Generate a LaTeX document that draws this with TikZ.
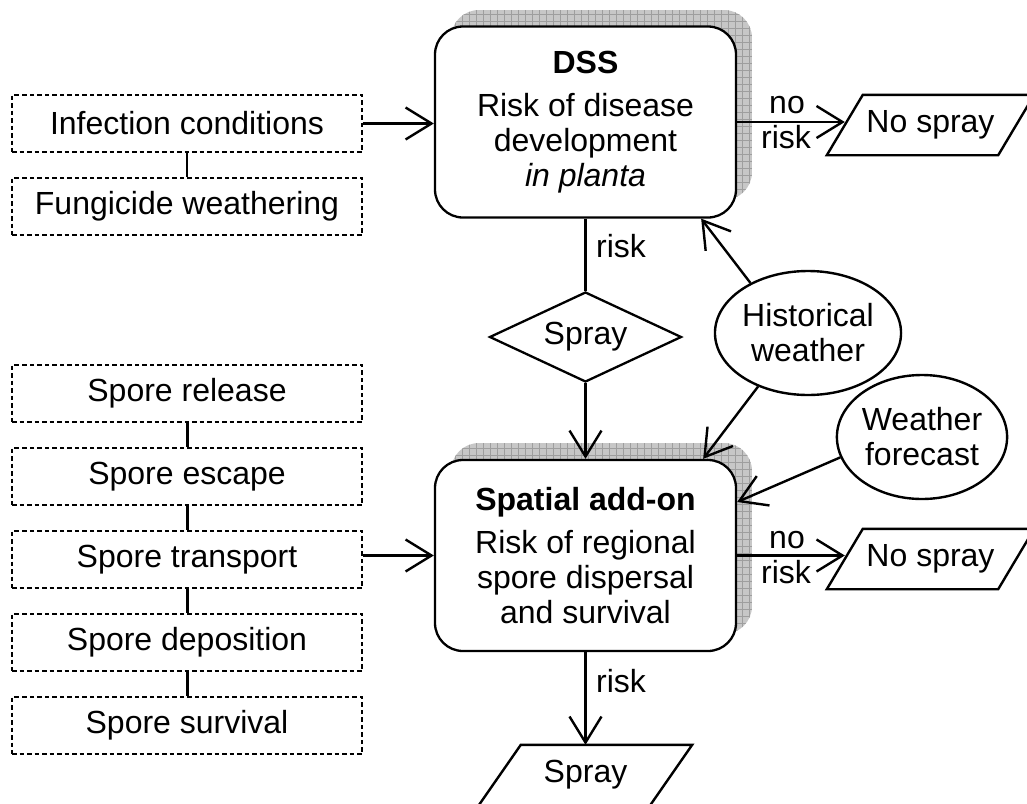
\documentclass[tikz,border=0pt]{standalone}
\usepackage{fontspec}
\setmainfont{Liberation Sans}
\usetikzlibrary{arrows.meta,shapes.geometric}

\tikzset{
  base/.style={font=\fontsize{32}{35}\selectfont},
  stage/.style={base, draw, dash pattern=on 4.5pt off 3pt, line width=1.3pt,
    minimum width=350pt, minimum height=57pt, inner sep=0pt},
  model/.style={base, draw, fill=white, rounded corners=28pt, line width=2.3pt,
    minimum width=301pt, minimum height=191pt, align=center, inner sep=0pt},
  source/.style={base, draw, ellipse, line width=2.4pt, minimum width=170pt,
    minimum height=124pt, align=center, inner sep=0pt},
  decision/.style={base, draw, diamond, aspect=2, line width=2.3pt,
    minimum width=192pt, minimum height=90pt, inner sep=0pt},
  outcome/.style={base, minimum width=171pt, minimum height=60pt, inner sep=0pt},
  lbl/.style={base, anchor=base, inner sep=0pt},
  link/.style={line width=2.4pt},
  arr/.style={line width=2.4pt, -{Straight Barb[length=26pt,width=32pt,line width=2.4pt]}},
  chain/.style={line width=3pt},
  thinchain/.style={line width=1.3pt},
  shade/.style={fill=black!22},
  hatch/.style={draw=black!38, line width=0.7pt},
}

% hatched drop shadow for a rounded box spanning two corners
\newcommand\hatchshadow[2]{%
  \begin{scope}
    \clip[rounded corners=28pt] ([shift={(16,-17)}]#1) rectangle ([shift={(16,-17)}]#2);
    \fill[shade] ([shift={(16,-17)}]#1) rectangle ([shift={(16,-17)}]#2);
    \draw[hatch, xstep=7pt, ystep=7pt] ([shift={(16,-17)}]#1) grid ([shift={(16,-17)}]#2);
  \end{scope}}

% slanted data box drawn around an outcome node
\newcommand\slantbox[2]{%
  \draw[link, line join=miter] ([xshift=-#2pt]#1.south west) -- ([xshift=#2pt]#1.north west)
    -- ([xshift=#2pt]#1.north east) -- ([xshift=-#2pt]#1.south east) -- cycle;}

\begin{document}
\begin{tikzpicture}[x=1pt, y=-1pt]
\useasboundingbox (0,0) rectangle (1027,803);

% corners of the two model boxes
\coordinate (dssA) at (435,27);
\coordinate (dssB) at (736,217);
\coordinate (spaA) at (435,460);
\coordinate (spaB) at (736,651);
\hatchshadow{dssA}{dssB}
\hatchshadow{spaA}{spaB}

% model boxes
\node[model] (dss) at (585.5,122)
  {\textbf{DSS}\\[8pt]Risk of disease\\development\\\textit{in planta}};
\node[model] (spatial) at (585.5,555.5)
  {\textbf{Spatial add-on}\\[8pt]Risk of regional\\spore dispersal\\and survival};

% process stages feeding each model
\node[stage] (inf) at (187,123.5) {Infection conditions};
\node[stage] (fung) at (187,206.5) {Fungicide weathering};
\node[stage] (rel) at (187,393.5) {Spore release};
\node[stage] (esc) at (187,476.5) {Spore escape};
\node[stage] (tra) at (187,559.5) {Spore transport};
\node[stage] (dep) at (187,642.5) {Spore deposition};
\node[stage] (sur) at (187,725.5) {Spore survival};

\draw[thinchain] (inf) -- (fung);
\draw[chain] (rel) -- (esc);
\draw[chain] (esc) -- (tra);
\draw[chain] (tra) -- (dep);
\draw[chain] (dep) -- (sur);

% decision and outcomes
\node[decision] (spray1) at (585.5,337) {Spray};
\node[outcome] (nos1) at (930.5,125) {No spray};
\node[outcome] (nos2) at (930.5,559) {No spray};
\node[outcome] (spray2) at (585.5,775) {Spray};
\slantbox{nos1}{18}
\slantbox{nos2}{18}
\slantbox{spray2}{21}

% weather inputs
\node[source] (hist) at (808,333) {Historical\\weather};
\node[source] (fore) at (922,437) {Weather\\forecast};

% connectors
\draw[arr] (inf.east) -- (inf.east -| dss.west);
\draw[arr] (tra.east |- spatial.west) -- (spatial.west);
\draw[arr] (dss.east) -- (dss.east -| nos1.west);
\draw[arr] (spatial.east) -- (spatial.east -| nos2.west);
\draw[link] (dss.south) -- (spray1.north);
\draw[arr] (spray1.south) -- (spatial.north);
\draw[arr] (spatial.south) -- (spray2.north);
\draw[arr] (hist.139) -- ([xshift=-36pt]dss.south east);
\draw[arr] (hist.227) -- ([xshift=-34pt]spatial.north east);
\draw[arr] (fore.194) -- ([yshift=53.5pt]spatial.east);

% connector labels
\node[lbl] (no1) at (787,113) {no};
\node[lbl] (rk1) at (786,148) {risk};
\node[lbl] (no2) at (787,548) {no};
\node[lbl] (rk2) at (786,583) {risk};
\node[lbl] (rk3) at (621,257) {risk};
\node[lbl] (rk4) at (621,692) {risk};
\end{tikzpicture}
\end{document}
